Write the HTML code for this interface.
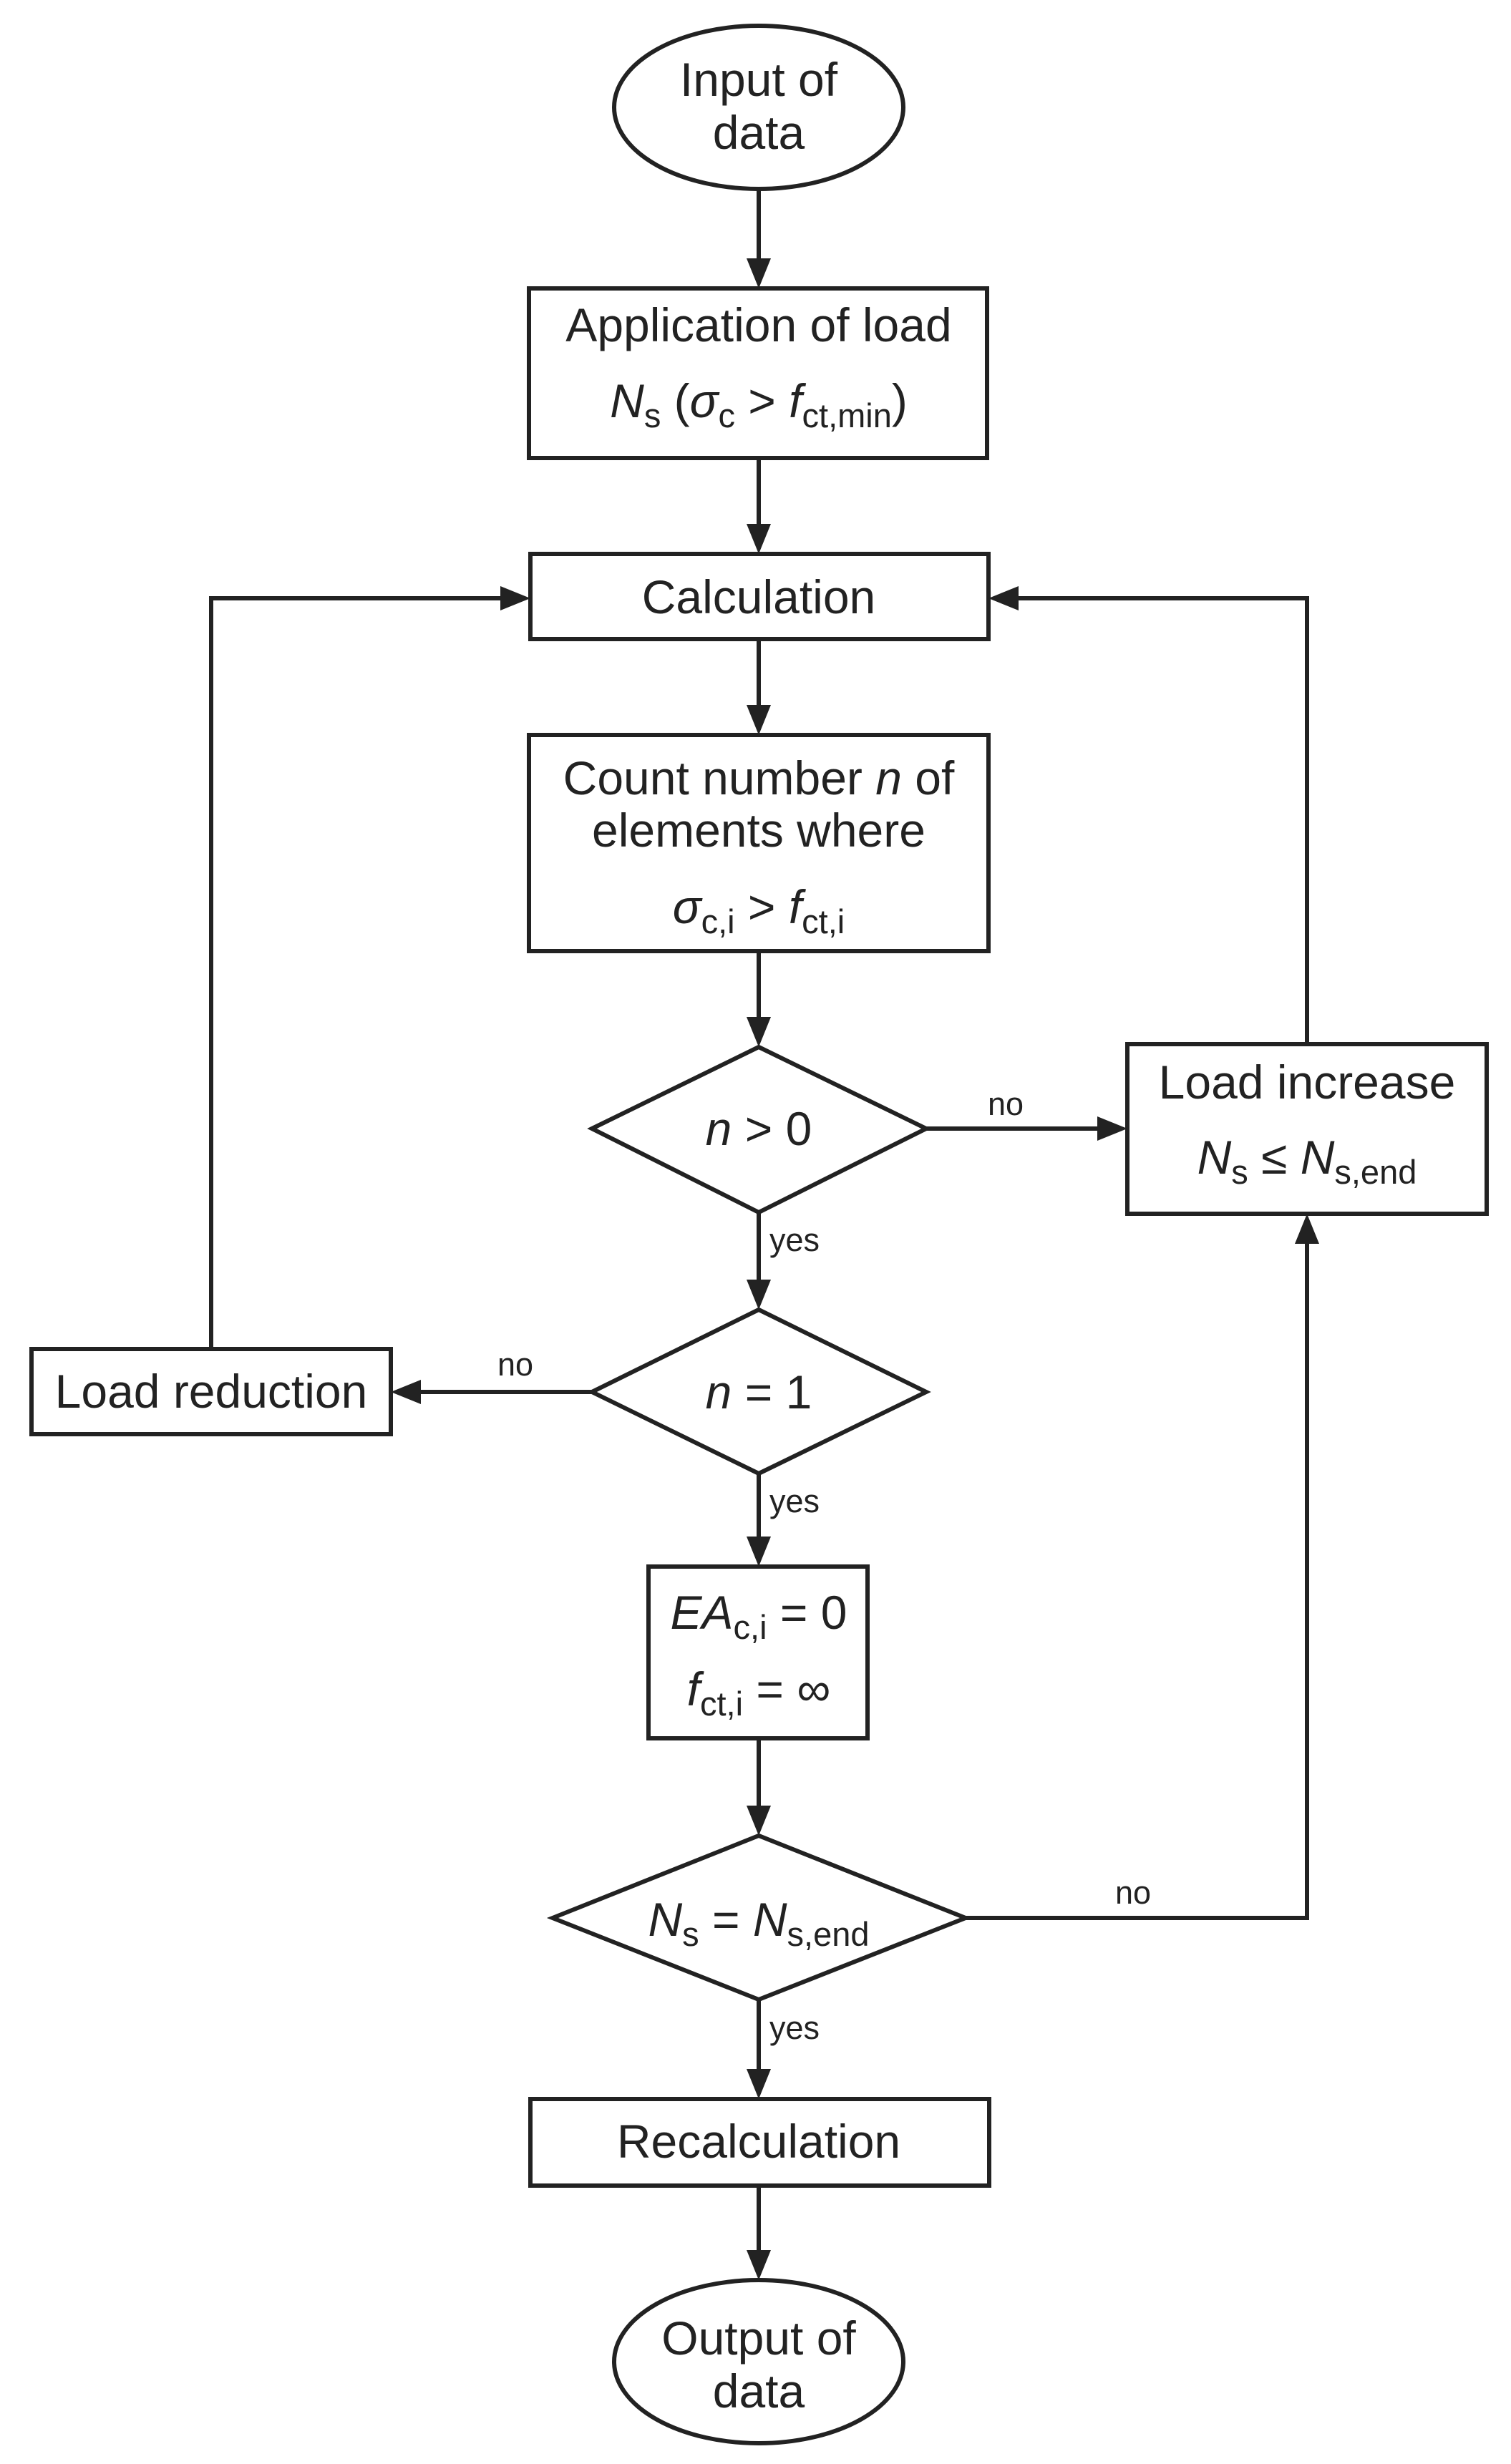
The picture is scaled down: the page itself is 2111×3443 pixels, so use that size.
<!DOCTYPE html>
<html><head><meta charset="utf-8"><style>
html,body{margin:0;padding:0;background:#fff;}
svg{display:block;}
text{font-family:"Liberation Sans",Arial,sans-serif;fill:#222;}
</style></head><body>
<svg width="2111" height="3443" viewBox="0 0 2111 3443" xmlns="http://www.w3.org/2000/svg">
<g stroke="#222" stroke-width="6" fill="none">
<ellipse cx="1060" cy="150" rx="202" ry="114"/>
<rect x="739" y="403" width="640" height="237"/>
<rect x="741" y="774" width="640" height="119"/>
<rect x="739" y="1027" width="642" height="302"/>
<polygon points="827,1577 1060,1463 1294,1577 1060,1694"/>
<rect x="1575" y="1459" width="502" height="237"/>
<polygon points="827,1945 1060,1830 1294,1945 1060,2059"/>
<rect x="44" y="1885" width="502" height="119"/>
<rect x="906" y="2189" width="306" height="240"/>
<polygon points="772,2680 1060,2565 1349,2680 1060,2794"/>
<rect x="741" y="2933" width="641" height="121"/>
<ellipse cx="1060" cy="3300" rx="202" ry="114"/>
<line x1="1060" y1="264" x2="1060" y2="365"/>
<line x1="1060" y1="640" x2="1060" y2="736"/>
<line x1="1060" y1="893" x2="1060" y2="989"/>
<line x1="1060" y1="1329" x2="1060" y2="1425"/>
<line x1="1060" y1="1694" x2="1060" y2="1792"/>
<line x1="1060" y1="2059" x2="1060" y2="2151"/>
<line x1="1060" y1="2429" x2="1060" y2="2527"/>
<line x1="1060" y1="2794" x2="1060" y2="2895"/>
<line x1="1060" y1="3054" x2="1060" y2="3148"/>
<line x1="1294" y1="1577" x2="1537" y2="1577"/>
<line x1="827" y1="1945" x2="584" y2="1945"/>
<polyline points="295,1885 295,836 703,836"/>
<polyline points="1826,1459 1826,836 1419,836"/>
<polyline points="1349,2680 1826,2680 1826,1734"/>
</g>
<g fill="#222">
<polygon points="1043,361 1077,361 1060,403"/>
<polygon points="1043,732 1077,732 1060,774"/>
<polygon points="1043,985 1077,985 1060,1027"/>
<polygon points="1043,1421 1077,1421 1060,1463"/>
<polygon points="1043,1788 1077,1788 1060,1830"/>
<polygon points="1043,2147 1077,2147 1060,2189"/>
<polygon points="1043,2523 1077,2523 1060,2565"/>
<polygon points="1043,2891 1077,2891 1060,2933"/>
<polygon points="1043,3144 1077,3144 1060,3186"/>
<polygon points="1533,1560 1533,1594 1575,1577"/>
<polygon points="588,1928 588,1962 546,1945"/>
<polygon points="699,819 699,853 741,836"/>
<polygon points="1423,819 1423,853 1381,836"/>
<polygon points="1809,1738 1843,1738 1826,1696"/>
</g>
<g font-size="66" text-anchor="middle">
<text x="1060" y="134">Input of</text>
<text x="1060" y="208">data</text>
<text x="1060" y="477">Application of load</text>
<text x="1060" y="583"><tspan font-style="italic">N</tspan><tspan font-size="47" dy="14">s</tspan><tspan dy="-14"> (</tspan><tspan font-style="italic">σ</tspan><tspan font-size="47" dy="14">c</tspan><tspan dy="-14"> &gt; </tspan><tspan font-style="italic">f</tspan><tspan font-size="47" dy="14">ct,min</tspan><tspan dy="-14">)</tspan></text>
<text x="1060" y="857">Calculation</text>
<text x="1060" y="1110">Count number <tspan font-style="italic">n</tspan> of</text>
<text x="1060" y="1183">elements where</text>
<text x="1060" y="1290"><tspan font-style="italic">σ</tspan><tspan font-size="47" dy="14">c,i</tspan><tspan dy="-14"> &gt; </tspan><tspan font-style="italic">f</tspan><tspan font-size="47" dy="14">ct,i</tspan></text>
<text x="1060" y="1600"><tspan font-style="italic">n</tspan> &gt; 0</text>
<text x="1826" y="1535">Load increase</text>
<text x="1826" y="1640"><tspan font-style="italic">N</tspan><tspan font-size="47" dy="14">s</tspan><tspan dy="-14"> ≤ </tspan><tspan font-style="italic">N</tspan><tspan font-size="47" dy="14">s,end</tspan></text>
<text x="1060" y="1968"><tspan font-style="italic">n</tspan> = 1</text>
<text x="295" y="1967">Load reduction</text>
<text x="1060" y="2276"><tspan font-style="italic">EA</tspan><tspan font-size="47" dy="14">c,i</tspan><tspan dy="-14"> = 0</tspan></text>
<text x="1060" y="2383"><tspan font-style="italic">f</tspan><tspan font-size="47" dy="14">ct,i</tspan><tspan dy="-14"> = ∞</tspan></text>
<text x="1060" y="2705"><tspan font-style="italic">N</tspan><tspan font-size="47" dy="14">s</tspan><tspan dy="-14"> = </tspan><tspan font-style="italic">N</tspan><tspan font-size="47" dy="14">s,end</tspan></text>
<text x="1060" y="3015">Recalculation</text>
<text x="1060" y="3290">Output of</text>
<text x="1060" y="3364">data</text>
</g>
<g font-size="45">
<text x="1380" y="1558">no</text>
<text x="1075" y="1748">yes</text>
<text x="695" y="1922">no</text>
<text x="1075" y="2113">yes</text>
<text x="1558" y="2660">no</text>
<text x="1075" y="2849">yes</text>
</g>
</svg>
</body></html>
